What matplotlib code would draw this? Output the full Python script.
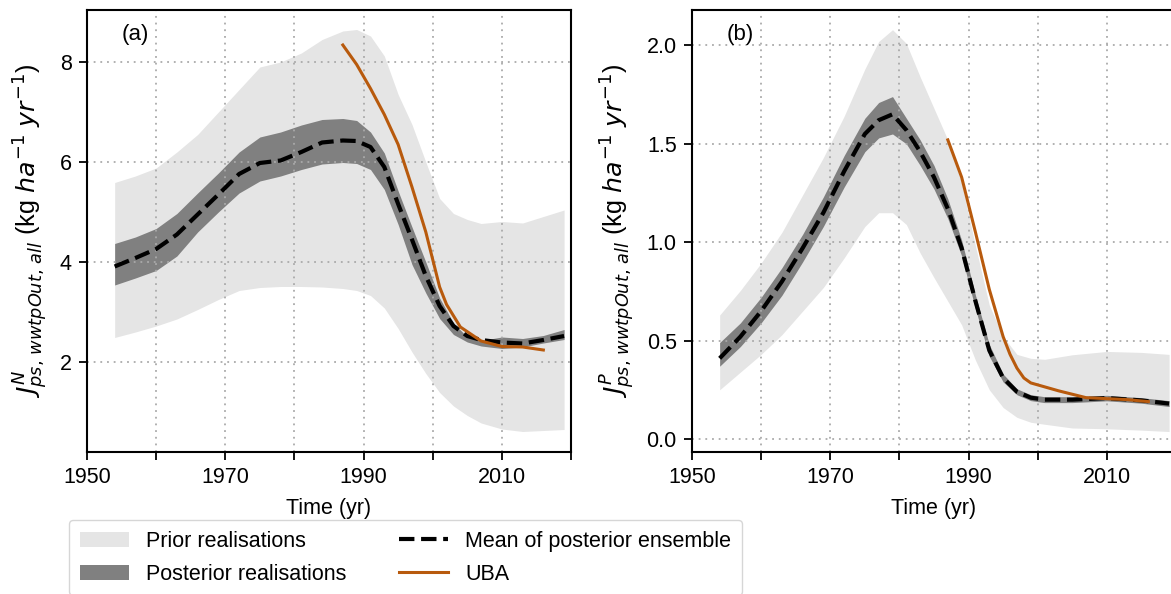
import matplotlib
matplotlib.use("Agg")
import matplotlib.pyplot as plt
import numpy as np

plt.rcParams['font.family'] = ['Liberation Sans', 'DejaVu Sans']
plt.rcParams['mathtext.fontset'] = 'dejavusans'

# ---- panel (a): nitrogen ----
years_a = [1954, 1957, 1960, 1963, 1966, 1969, 1972, 1975, 1978, 1981, 1984, 1987, 1989,
           1991, 1993, 1995, 1997, 1999, 2001, 2003, 2005, 2007, 2010, 2013, 2016, 2019]
prior_hi_a = [5.59, 5.72, 5.88, 6.20, 6.55, 7.00, 7.45, 7.90, 8.00, 8.18, 8.45, 8.62, 8.65,
              8.52, 8.12, 7.35, 6.75, 6.00, 5.27, 4.97, 4.85, 4.77, 4.81, 4.78, 4.91, 5.04]
prior_lo_a = [2.49, 2.60, 2.72, 2.86, 3.05, 3.25, 3.43, 3.49, 3.51, 3.51, 3.50, 3.47, 3.43,
              3.33, 3.08, 2.67, 2.20, 1.77, 1.39, 1.12, 0.93, 0.78, 0.66, 0.61, 0.63, 0.65]
post_hi_a = [4.37, 4.50, 4.67, 4.97, 5.38, 5.78, 6.20, 6.50, 6.60, 6.74, 6.85, 6.87, 6.83,
             6.60, 6.18, 5.42, 4.70, 4.00, 3.28, 2.78, 2.50, 2.43, 2.50, 2.47, 2.53, 2.65]
post_lo_a = [3.54, 3.68, 3.83, 4.12, 4.60, 5.00, 5.38, 5.62, 5.72, 5.85, 5.96, 5.99, 5.97,
             5.85, 5.45, 4.75, 3.95, 3.38, 2.87, 2.55, 2.40, 2.32, 2.27, 2.30, 2.38, 2.45]
mean_a = [3.91, 4.08, 4.26, 4.55, 4.95, 5.35, 5.76, 5.98, 6.03, 6.20, 6.39, 6.43, 6.42,
          6.30, 5.90, 5.16, 4.45, 3.72, 3.12, 2.72, 2.52, 2.44, 2.39, 2.37, 2.44, 2.52]
uba_years_a = [1987, 1989, 1991, 1993, 1995, 1997, 1999, 2001, 2002, 2004, 2007, 2010, 2013, 2016]
uba_a = [8.34, 7.95, 7.47, 6.95, 6.35, 5.50, 4.60, 3.50, 3.15, 2.70, 2.42, 2.31, 2.30, 2.24]

# ---- panel (b): phosphorus ----
years_b = [1954, 1957, 1960, 1963, 1966, 1969, 1972, 1975, 1977, 1979, 1981, 1983, 1985,
           1987, 1989, 1991, 1993, 1995, 1997, 1999, 2001, 2005, 2010, 2015, 2019]
prior_hi_b = [0.63, 0.755, 0.894, 1.05, 1.24, 1.43, 1.64, 1.88, 2.02, 2.08, 2.01, 1.84, 1.68,
              1.52, 1.30, 0.98, 0.68, 0.52, 0.43, 0.41, 0.405, 0.428, 0.445, 0.44, 0.43]
prior_lo_b = [0.25, 0.34, 0.43, 0.53, 0.65, 0.77, 0.92, 1.08, 1.15, 1.15, 1.09, 0.945, 0.82,
              0.70, 0.58, 0.40, 0.25, 0.16, 0.11, 0.085, 0.075, 0.056, 0.052, 0.045, 0.038]
post_hi_b = [0.49, 0.59, 0.72, 0.87, 1.04, 1.23, 1.44, 1.63, 1.71, 1.74, 1.63, 1.52, 1.39,
             1.22, 1.01, 0.73, 0.48, 0.33, 0.255, 0.225, 0.215, 0.215, 0.222, 0.21, 0.195]
post_lo_b = [0.37, 0.47, 0.59, 0.73, 0.90, 1.08, 1.28, 1.46, 1.53, 1.55, 1.50, 1.39, 1.27,
             1.12, 0.93, 0.66, 0.42, 0.29, 0.225, 0.195, 0.185, 0.185, 0.194, 0.182, 0.165]
mean_b = [0.41, 0.52, 0.65, 0.80, 0.97, 1.15, 1.36, 1.55, 1.62, 1.65, 1.57, 1.46, 1.33,
          1.17, 0.97, 0.70, 0.45, 0.31, 0.24, 0.21, 0.20, 0.20, 0.208, 0.196, 0.18]
uba_years_b = [1987, 1989, 1991, 1993, 1995, 1996, 1997, 1998, 1999, 2003, 2007, 2010, 2013, 2016]
uba_b = [1.52, 1.33, 1.05, 0.76, 0.52, 0.43, 0.36, 0.31, 0.285, 0.245, 0.21, 0.205, 0.20, 0.19]

xticks = list(range(1950, 2021, 10))
xticklabels = ['1950', '', '1970', '', '1990', '', '2010', '']

prior_col = '#e5e5e5'
post_col = '#808080'
uba_col = '#b85a0d'
fs = 15.5

fig = plt.figure(figsize=(11.71, 5.94), dpi=100)
ax_a = fig.add_axes([87/1171, 1-452/594, 484/1171, 442/594])
ax_b = fig.add_axes([692/1171, 1-452/594, 484/1171, 442/594])

panels = [
    (ax_a, years_a, prior_lo_a, prior_hi_a, post_lo_a, post_hi_a, mean_a, uba_years_a, uba_a,
     'N', (0.2, 9.04), [2, 4, 6, 8], ['2', '4', '6', '8'], '(a)'),
    (ax_b, years_b, prior_lo_b, prior_hi_b, post_lo_b, post_hi_b, mean_b, uba_years_b, uba_b,
     'P', (-0.066, 2.18), [0, 0.5, 1, 1.5, 2], ['0.0', '0.5', '1.0', '1.5', '2.0'], '(b)'),
]

for ax, yrs, plo, phi, qlo, qhi, mn, uy, uv, sym, ylim, yt, ytl, tag in panels:
    h1 = ax.fill_between(yrs, plo, phi, color=prior_col, lw=0, label='Prior realisations')
    h2 = ax.fill_between(yrs, qlo, qhi, color=post_col, lw=0, label='Posterior realisations')
    h3, = ax.plot(yrs, mn, color='black', ls='--', lw=3, label='Mean of posterior ensemble')
    h4, = ax.plot(uy, uv, color=uba_col, lw=2.2, label='UBA')
    ax.set_xlim(1950, 2020)
    ax.set_ylim(*ylim)
    ax.set_xticks(xticks)
    ax.set_xticklabels(xticklabels)
    ax.set_yticks(yt)
    ax.set_yticklabels(ytl)
    ax.grid(True, ls=(0, (1, 2.7)), color='#aaaaaa', lw=1.3)
    ax.tick_params(labelsize=fs, length=6, width=1.3, pad=5)
    for sp in ax.spines.values():
        sp.set_linewidth(1.5)
    ax.set_xlabel('Time (yr)', fontsize=fs, labelpad=7)
    ax.set_ylabel(r'$J^{%s}_{ps,\,wwtpOut,\,all}$ (kg $ha^{-1}$ $yr^{-1}$)' % sym,
                  fontsize=18.2, labelpad=7)
    ax.text(0.072, 0.945, tag, transform=ax.transAxes, fontsize=16, va='center')

fig.legend(handles=[h1, h2, h3, h4], loc='upper left', ncol=2,
           bbox_to_anchor=(69/1171, 1-520/594), borderaxespad=0, fontsize=fs,
           handlelength=2.3, columnspacing=2.4, borderpad=0.5, labelspacing=0.55)

fig.savefig('out.png', dpi=100)
